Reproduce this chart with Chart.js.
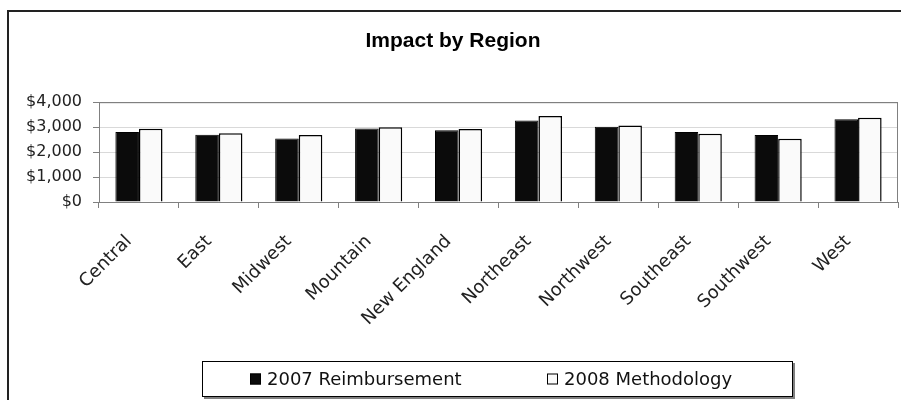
<!DOCTYPE html>
<html>
<head>
<meta charset="utf-8">
<title>Impact by Region</title>
<script src="https://cdn.jsdelivr.net/npm/chart.js@4.4.1/dist/chart.umd.min.js"></script>
<style>
  html, body { margin: 0; padding: 0; background: #fff; }
  #wrap { width: 901px; height: 400px; position: relative; }
</style>
</head>
<body>
<div id="wrap"><canvas id="regionChart"></canvas></div>
<script>
// ---- data ----
const regions = ['Central', 'East', 'Midwest', 'Mountain', 'New England', 'Northeast', 'Northwest', 'Southeast', 'Southwest', 'West'];
const reimb2007 = [2810, 2700, 2550, 2950, 2880, 3270, 3020, 2810, 2690, 3320];
const method2008 = [2935, 2760, 2690, 3000, 2930, 3450, 3070, 2740, 2540, 3380];
const yTicks = [0, 1000, 2000, 3000, 4000];

const labelFont = "'DejaVu Sans', sans-serif";

// outer frame, plot frame (top + right) and boxed legend
const framePlugin = {
    id: 'frames',
    afterDraw(chart) {
        const ctx = chart.ctx;
        const a = chart.chartArea;
        ctx.save();

        // outer chart border (runs off the right and bottom edges)
        ctx.strokeStyle = '#222';
        ctx.lineWidth = 2;
        ctx.strokeRect(8, 11, chart.width + 10, chart.height + 10);

        // plot area top / right
        ctx.strokeStyle = '#808080';
        ctx.lineWidth = 1;
        ctx.beginPath();
        ctx.moveTo(a.left, a.top + 0.5);
        ctx.lineTo(a.right - 0.5, a.top + 0.5);
        ctx.lineTo(a.right - 0.5, a.bottom);
        ctx.stroke();

        // legend box
        const box = { x: 202, y: 361, w: 591, h: 36 };
        ctx.fillStyle = '#808080';
        ctx.fillRect(box.x + 2, box.y + box.h, box.w, 2);
        ctx.fillRect(box.x + box.w, box.y + 2, 2, box.h);
        ctx.strokeStyle = '#000';
        ctx.strokeRect(box.x + 0.5, box.y + 0.5, box.w - 1, box.h - 1);

        const itemX = [250, 547];
        const midY = box.y + box.h / 2;
        ctx.font = '18px ' + labelFont;
        ctx.textBaseline = 'middle';
        ctx.textAlign = 'left';
        chart.data.datasets.forEach((ds, i) => {
            ctx.fillStyle = ds.backgroundColor;
            ctx.fillRect(itemX[i], midY - 5.5, 11, 11);
            ctx.strokeStyle = '#000';
            ctx.strokeRect(itemX[i] + 0.5, midY - 5, 10, 10);
            ctx.fillStyle = '#111';
            ctx.fillText(ds.label, itemX[i] + 17, midY + 1);
        });
        ctx.restore();
    }
};

new Chart(document.getElementById('regionChart'), {
    type: 'bar',
    data: {
        labels: regions,
        datasets: [
            {
                label: '2007 Reimbursement',
                data: reimb2007,
                backgroundColor: '#0b0b0b',
                borderColor: '#000',
                borderWidth: 1
            },
            {
                label: '2008 Methodology',
                data: method2008,
                backgroundColor: '#fafafa',
                borderColor: '#000',
                borderWidth: 1.5
            }
        ]
    },
    options: {
        responsive: true,
        maintainAspectRatio: false,
        animation: false,
        layout: { padding: { left: 8, right: 3, top: 0, bottom: 0 } },
        datasets: { bar: { categoryPercentage: 0.59, barPercentage: 1 } },
        plugins: {
            legend: { display: false },
            tooltip: { enabled: false },
            title: {
                display: true,
                text: 'Impact by Region',
                color: '#000',
                font: { family: "'Liberation Sans', Arial, sans-serif", size: 21, weight: 'bold' },
                padding: { top: 29, bottom: 48 }
            }
        },
        scales: {
            x: {
                grid: { display: true, drawOnChartArea: false, color: '#808080', tickLength: 6, offset: true },
                border: { color: '#808080' },
                ticks: {
                    autoSkip: false,
                    minRotation: 45,
                    maxRotation: 45,
                    padding: 23,
                    labelOffset: -10,
                    color: '#222',
                    font: { family: labelFont, size: 18 }
                },
                afterFit(scale) { scale.height = 198; }
            },
            y: {
                min: 0,
                max: 4000,
                afterBuildTicks(scale) { scale.ticks = yTicks.map(v => ({ value: v })); },
                grid: {
                    color: c => (c.tick && c.tick.value === 4000) ? '#808080' : '#d9d9d9',
                    tickColor: '#808080',
                    tickLength: 6
                },
                border: { color: '#808080' },
                ticks: {
                    padding: 11,
                    color: '#222',
                    font: { family: labelFont, size: 16 },
                    callback: v => '$' + v.toLocaleString('en-US')
                },
                afterFit(scale) { scale.width = 91; }
            }
        }
    },
    plugins: [framePlugin]
});
</script>
</body>
</html>
